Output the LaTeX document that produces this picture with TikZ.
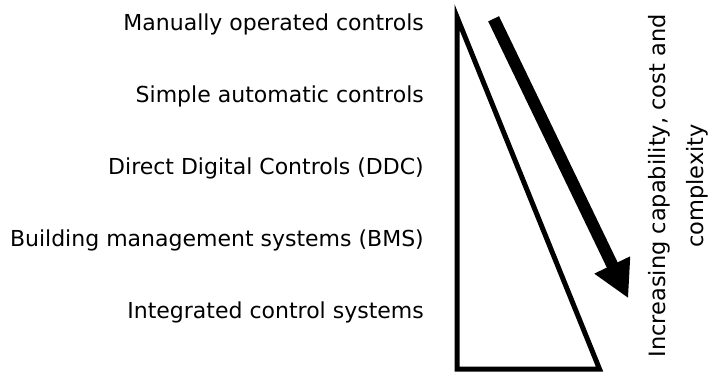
\documentclass[tikz,border=0pt]{standalone}
\usepackage{fontspec}
\setmainfont{DejaVu Sans}
\usetikzlibrary{arrows.meta}
\begin{document}
\begin{tikzpicture}[x=1pt,y=-1pt,
  lvl/.style={anchor=base east, inner sep=0pt, font=\fontsize{22}{26}\selectfont},
  side/.style={anchor=base, rotate=90, inner sep=0pt, font=\fontsize{22.5}{27}\selectfont}]
\useasboundingbox (0,0) rectangle (711,372);
\node[lvl] (l1) at (424,30) {Manually operated controls};
\node[lvl] (l2) at (424,102) {Simple automatic controls};
\node[lvl] (l3) at (424,174) {Direct Digital Controls (DDC)};
\node[lvl] (l4) at (424,246) {Building management systems (BMS)};
\node[lvl] (l5) at (424,318) {Integrated control systems};
\coordinate (tA) at (457,17);
\coordinate (tB) at (457,369);
\coordinate (tC) at (599.5,369);
\draw[line width=5pt, line join=miter] (tA) -- (tB) -- (tC) -- cycle;
\coordinate (aS) at (493.6,18.8);
\coordinate (aE) at (628.3,298.3);
\draw[line width=12pt, -{Triangle[length=37pt,width=37pt]}] (aS) -- (aE);
\node[side] (s1) at (665,186) {Increasing capability, cost and};
\node[side] (s2) at (703,186) {complexity};
\end{tikzpicture}
\end{document}
